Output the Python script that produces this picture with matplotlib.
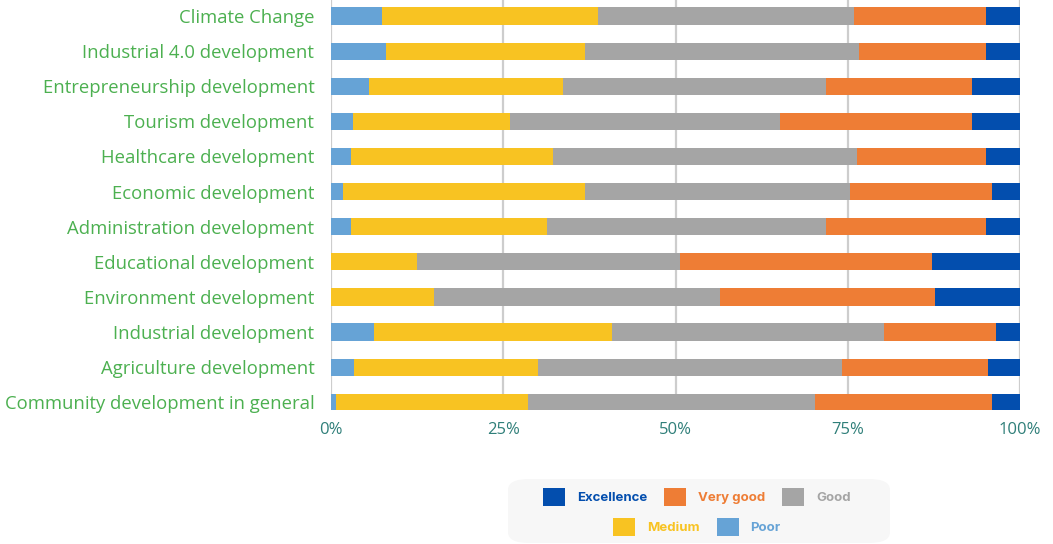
import matplotlib.pyplot as plt
import numpy as np
from matplotlib.patches import FancyBboxPatch, Patch

plt.rcParams['font.family'] = ['Open Sans', 'DejaVu Sans']

categories = [
    'Climate Change',
    'Industrial 4.0 development',
    'Entrepreneurship development',
    'Tourism development',
    'Healthcare development',
    'Economic development',
    'Administration development',
    'Educational development',
    'Environment development',
    'Industrial development',
    'Agriculture development',
    'Community development in general',
]

# percentages per category (top to bottom)
poor = [7.4, 8.0, 5.5, 3.2, 2.9, 1.7, 2.9, 0.0, 0.0, 6.3, 3.4, 0.7]
medium = [31.4, 28.8, 28.2, 22.8, 29.3, 35.1, 28.5, 12.5, 15.0, 34.5, 26.6, 27.9]
good = [37.1, 39.9, 38.2, 39.2, 44.2, 38.5, 40.5, 38.2, 41.4, 39.5, 44.2, 41.6]
very_good = [19.2, 18.4, 21.2, 27.9, 18.7, 20.6, 23.2, 36.5, 31.3, 16.2, 21.2, 25.7]
excellence = [4.9, 4.9, 6.9, 6.9, 4.9, 4.1, 4.9, 12.8, 12.3, 3.5, 4.6, 4.1]

series = [
    ('Poor', poor, '#66A3D6'),
    ('Medium', medium, '#F8C322'),
    ('Good', good, '#A5A5A5'),
    ('Very good', very_good, '#EE7D35'),
    ('Excellence', excellence, '#034EAE'),
]

fig = plt.figure(figsize=(10.53, 5.44), dpi=100)
ax = fig.add_axes([331 / 1053, 1 - 410 / 544, 689 / 1053, 410 / 544])

y = np.arange(len(categories))
left = np.zeros(len(categories))
for name, vals, color in series:
    vals = np.array(vals)
    ax.barh(y, vals, left=left, height=0.49, color=color, zorder=3)
    left += vals

ax.set_xlim(0, 100)
ax.set_ylim(11.22, -0.456)
ax.set_xticks([0, 25, 50, 75, 100])
ax.set_xticklabels(['0%', '25%', '50%', '75%', '100%'])
ax.set_yticks(y)
ax.set_yticklabels(categories)
ax.tick_params(axis='y', length=0, pad=12, labelsize=13.3, labelcolor='#4CB050')
ax.tick_params(axis='x', length=0, pad=9, labelsize=12, labelcolor='#2F7F79')
ax.grid(axis='x', color='#CDCDCD', linewidth=1.6, zorder=0)
for s in ax.spines.values():
    s.set_visible(False)

# legend box
box = FancyBboxPatch((508 / 1053, 1 - 543 / 544), 382 / 1053, 64 / 544,
                     boxstyle='round,pad=0,rounding_size=0.02',
                     transform=fig.transFigure, facecolor='#F7F7F7',
                     edgecolor='none')
fig.patches.append(box)

colors = {name: color for name, vals, color in series}
row1 = ['Excellence', 'Very good', 'Good']
row2 = ['Medium', 'Poor']
for names, ypos in [(row1, 1 - 497 / 544), (row2, 1 - 527 / 544)]:
    handles = [Patch(facecolor=colors[n], label=n) for n in names]
    leg = fig.legend(handles=handles, loc='center', bbox_to_anchor=(697 / 1053, ypos),
                     ncol=len(names), frameon=False, handlelength=1.65, handleheight=1.65,
                     handletextpad=0.9, columnspacing=1.3,
                     prop={'weight': 'bold', 'size': 9.5, 'family': 'Inter'})
    for t, n in zip(leg.get_texts(), names):
        t.set_color(colors[n])

fig.savefig('out.png', dpi=100)
